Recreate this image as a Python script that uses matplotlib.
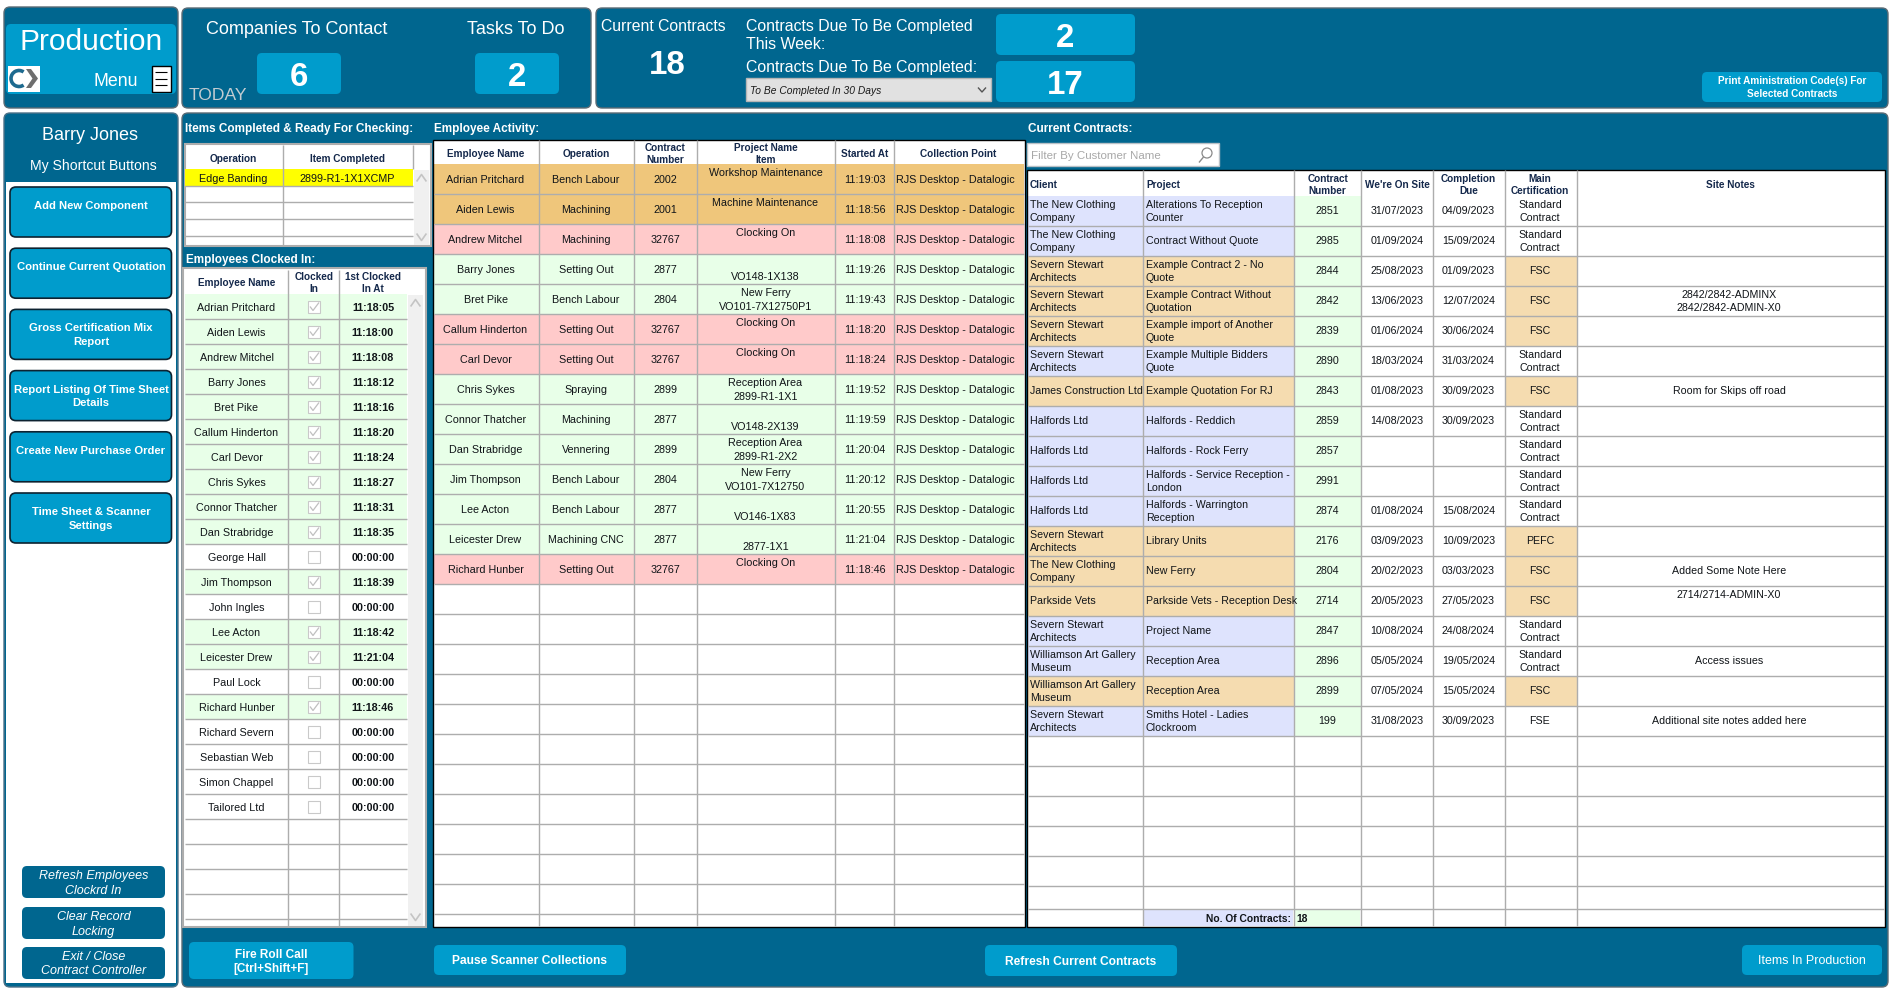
"""Production dashboard screen redrawn with matplotlib, laid out in pixel coordinates."""

import matplotlib

matplotlib.use("Agg")
import matplotlib.pyplot as plt
from matplotlib.patches import Arc, Circle, FancyBboxPatch, Polygon, Rectangle

plt.rcParams["font.family"] = ["Liberation Sans", "DejaVu Sans"]

WIDTH, HEIGHT = 1893, 992

TEAL = "#00668f"
BLUE = "#009ccc"
GRID = "#adadad"
INK = "#101418"
NAVY = "#14284b"
GREEN = "#e8ffe8"
ORANGE = "#efc67b"
PINK = "#ffcaca"
PEACH = "#f5dcb0"
LILAC = "#dee3fd"

companies_to_contact = "6"
tasks_to_do = "2"
current_contracts = "18"
due_this_week = "2"
due_selected = "17"

shortcut_buttons = [
    "Add New Component",
    "Continue Current Quotation",
    "Gross Certification Mix\nReport",
    "Report Listing Of Time Sheet\nDetails",
    "Create New Purchase Order",
    "Time Sheet & Scanner\nSettings",
]
system_buttons = [
    "Refresh Employees\nClockrd In",
    "Clear Record\nLocking",
    "Exit / Close\nContract Controller",
]

item_operations = ["Edge Banding"]
item_codes = ["2899-R1-1X1XCMP"]

clocked_names = [
    "Adrian Pritchard", "Aiden Lewis", "Andrew Mitchel", "Barry Jones", "Bret Pike",
    "Callum Hinderton", "Carl Devor", "Chris Sykes", "Connor Thatcher", "Dan Strabridge",
    "George Hall", "Jim Thompson", "John Ingles", "Lee Acton", "Leicester Drew",
    "Paul Lock", "Richard Hunber", "Richard Severn", "Sebastian Web", "Simon Chappel",
    "Tailored Ltd",
]
clocked_times = [
    "11:18:05", "11:18:00", "11:18:08", "11:18:12", "11:18:16",
    "11:18:20", "11:18:24", "11:18:27", "11:18:31", "11:18:35",
    "00:00:00", "11:18:39", "00:00:00", "11:18:42", "11:21:04",
    "00:00:00", "11:18:46", "00:00:00", "00:00:00", "00:00:00",
    "00:00:00",
]

activity_names = [
    "Adrian Pritchard", "Aiden Lewis", "Andrew Mitchel", "Barry Jones", "Bret Pike",
    "Callum Hinderton", "Carl Devor", "Chris Sykes", "Connor Thatcher", "Dan Strabridge",
    "Jim Thompson", "Lee Acton", "Leicester Drew", "Richard Hunber",
]
activity_operations = [
    "Bench Labour", "Machining", "Machining", "Setting Out", "Bench Labour",
    "Setting Out", "Setting Out", "Spraying", "Machining", "Vennering",
    "Bench Labour", "Bench Labour", "Machining CNC", "Setting Out",
]
activity_contracts = [
    "2002", "2001", "32767", "2877", "2804", "32767", "32767",
    "2899", "2877", "2899", "2804", "2877", "2877", "32767",
]
activity_projects = [
    "Workshop Maintenance", "Machine Maintenance", "Clocking On", "", "New Ferry",
    "Clocking On", "Clocking On", "Reception Area", "", "Reception Area",
    "New Ferry", "", "", "Clocking On",
]
activity_items = [
    "", "", "", "VO148-1X138", "VO101-7X12750P1",
    "", "", "2899-R1-1X1", "VO148-2X139", "2899-R1-2X2",
    "VO101-7X12750", "VO146-1X83", "2877-1X1", "",
]
activity_started = [
    "11:19:03", "11:18:56", "11:18:08", "11:19:26", "11:19:43", "11:18:20", "11:18:24",
    "11:19:52", "11:19:59", "11:20:04", "11:20:12", "11:20:55", "11:21:04", "11:18:46",
]
activity_point = "RJS Desktop - Datalogic"

contract_clients = [
    "The New Clothing\nCompany", "The New Clothing\nCompany", "Severn Stewart\nArchitects",
    "Severn Stewart\nArchitects", "Severn Stewart\nArchitects", "Severn Stewart\nArchitects",
    "James Construction Ltd", "Halfords Ltd", "Halfords Ltd", "Halfords Ltd", "Halfords Ltd",
    "Severn Stewart\nArchitects", "The New Clothing\nCompany", "Parkside Vets",
    "Severn Stewart\nArchitects", "Williamson Art Gallery\nMuseum",
    "Williamson Art Gallery\nMuseum", "Severn Stewart\nArchitects",
]
contract_projects = [
    "Alterations To Reception\nCounter", "Contract Without Quote",
    "Example Contract 2 - No\nQuote", "Example Contract Without\nQuotation",
    "Example import of Another\nQuote", "Example Multiple Bidders\nQuote",
    "Example Quotation For RJ", "Halfords - Reddich", "Halfords - Rock Ferry",
    "Halfords - Service Reception -\nLondon", "Halfords - Warrington\nReception",
    "Library Units", "New Ferry", "Parkside Vets - Reception Desk", "Project Name",
    "Reception Area", "Reception Area", "Smiths Hotel - Ladies\nClockroom",
]
contract_numbers = [
    "2851", "2985", "2844", "2842", "2839", "2890", "2843", "2859", "2857",
    "2991", "2874", "2176", "2804", "2714", "2847", "2896", "2899", "199",
]
contract_on_site = [
    "31/07/2023", "01/09/2024", "25/08/2023", "13/06/2023", "01/06/2024", "18/03/2024",
    "01/08/2023", "14/08/2023", "", "", "01/08/2024", "03/09/2023",
    "20/02/2023", "20/05/2023", "10/08/2024", "05/05/2024", "07/05/2024", "31/08/2023",
]
contract_due = [
    "04/09/2023", "15/09/2024", "01/09/2023", "12/07/2024", "30/06/2024", "31/03/2024",
    "30/09/2023", "30/09/2023", "", "", "15/08/2024", "10/09/2023",
    "03/03/2023", "27/05/2023", "24/08/2024", "19/05/2024", "15/05/2024", "30/09/2023",
]
contract_certs = [
    "Standard\nContract", "Standard\nContract", "FSC", "FSC", "FSC", "Standard\nContract",
    "FSC", "Standard\nContract", "Standard\nContract", "Standard\nContract",
    "Standard\nContract", "PEFC", "FSC", "FSC", "Standard\nContract", "Standard\nContract",
    "FSC", "FSE",
]
contract_notes = {
    3: "2842/2842-ADMINX\n2842/2842-ADMIN-X0",
    6: "Room for Skips off road",
    12: "Added Some Note Here",
    15: "Access issues",
    17: "Additional site notes added here",
}
parkside_note = "2714/2714-ADMIN-X0"

fig = plt.figure(figsize=(WIDTH / 100, HEIGHT / 100), dpi=100, facecolor="white")
ax = fig.add_axes([0, 0, 1, 1])
ax.set_xlim(0, WIDTH)
ax.set_ylim(HEIGHT, 0)
ax.axis("off")


def label(x, y, text, px=10.5, color=INK, ha="center", bold=False, italic=False):
    # px is the font height in screen pixels, the figure is 100 dpi
    # baseline placement so lines with and without descenders sit level
    ax.text(
        x, y + 0.36 * px, text, fontsize=px * 0.72, color=color, ha=ha, va="baseline",
        fontweight="bold" if bold else "normal",
        fontstyle="italic" if italic else "normal",
    )


def box(x0, y0, x1, y1, color, radius=5, edge="none", lw=0.0):
    ax.add_patch(FancyBboxPatch(
        (x0, y0), x1 - x0, y1 - y0, boxstyle=f"round,pad=0,rounding_size={radius}",
        facecolor=color, edgecolor=edge, linewidth=lw,
    ))


def cell(x0, y0, x1, y1, color, edge="none", lw=0.0):
    ax.add_patch(Rectangle((x0, y0), x1 - x0, y1 - y0, facecolor=color, edgecolor=edge, linewidth=lw))


def line(xs, ys, color=GRID, lw=1.0):
    ax.plot(xs, ys, color=color, linewidth=lw, solid_capstyle="butt")


def button(x0, y0, x1, y1, text, px=12, color=BLUE, bold=True, italic=False, gap=14):
    box(x0, y0, x1, y1, color, radius=5)
    parts = text.split("\n")
    mid = (y0 + y1) / 2
    for i, part in enumerate(parts):
        y = mid + (i - (len(parts) - 1) / 2) * gap
        label((x0 + x1) / 2, y, part, px, "white", bold=bold, italic=italic)


def chevron(x, y, up, color="#c4c4c4", size=3.5):
    tip = y - size if up else y + size
    base = y + size if up else y - size
    line([x - size * 1.4, x, x + size * 1.4], [base, tip, base], color, 1.2)


def column_lines(columns, y0, y1):
    for x in columns:
        line([x, x], [y0, y1])


def row_lines(x0, x1, ys):
    for y in ys:
        line([x0, x1], [y, y])


# white-edged teal panels
for x0, y0, x1, y1 in [(4, 7, 178, 108), (182, 8, 591, 108), (596, 8, 1888, 108), (182, 113, 1888, 987)]:
    box(x0, y0, x1, y1, TEAL, radius=6, edge="#5b6b75", lw=1.0)
box(4, 113, 178, 987, TEAL, radius=6, edge="#4d7288", lw=1.0)
cell(6, 182, 176, 983, "white")

# production tile
box(6, 24, 176, 94, BLUE, radius=5)
label(91, 39, "Production", 30, "white")
label(116, 80, "Menu", 17.7, "white")
cell(8, 66, 40, 92, "white")
ax.add_patch(Arc((19, 78.5), 16, 16, theta1=55, theta2=305, color="#1d6a8f", linewidth=2.6))
ax.add_patch(Polygon([(26, 69), (31, 69), (38, 78.5), (31, 88), (26, 88), (32.5, 78.5)], facecolor="#6e6e6e", edgecolor="none"))
cell(151.5, 66, 171, 92, "white", edge="black", lw=1.0)
for bar_y in (72, 79, 85):
    line([155, 167], [bar_y, bar_y], "black", 0.8)

# counters
label(296.5, 28, "Companies To Contact", 18, "white")
label(516, 28, "Tasks To Do", 18, "white")
label(218, 94, "TODAY", 17.5, "#c3ccd1")
box(257, 53, 341, 94, BLUE)
box(475, 53, 559, 94, BLUE)
label(299, 74, companies_to_contact, 33, "white", bold=True)
label(517, 74, tasks_to_do, 33, "white", bold=True)
label(663, 25, "Current Contracts", 15.8, "white")
label(667, 62, current_contracts, 33, "white", bold=True)
label(746, 25, "Contracts Due To Be Completed", 15.85, "white", ha="left")
label(746, 43, "This Week:", 15.85, "white", ha="left")
label(746, 66, "Contracts Due To Be Completed:", 15.85, "white", ha="left")
cell(746, 78, 990.5, 101, "#e1e1e1", edge="#b5b5b5", lw=1.0)
label(750, 90, "To Be Completed In 30 Days", 10.2, "#1a1a1a", ha="left", italic=True)
line([978, 982, 986], [87.5, 92, 87.5], "#555555", 1.0)
box(996, 14, 1135, 55, BLUE)
box(996, 61, 1135, 102, BLUE)
label(1065, 35, due_this_week, 33, "white", bold=True)
label(1065, 82, due_selected, 33, "white", bold=True)
button(1702, 72, 1882, 102, "Print Aministration Code(s) For\nSelected Contracts", 10, gap=13)

# left hand shortcuts
label(90, 134, "Barry Jones", 18, "white")
label(93, 165, "My Shortcut Buttons", 14, "white")
for i, text in enumerate(shortcut_buttons):
    top = 187 + i * 61.2
    box(10, top, 171.5, top + 50, BLUE, radius=6, edge="#0d2230", lw=1.2)
    for j, part in enumerate(text.split("\n")):
        label(91, top + 18 + j * 13.5, part, 11.2, "white", bold=True)
for (y0, y1), text in zip([(866, 898), (907, 939), (947, 979)], system_buttons):
    button(22, y0, 165, y1, text, 12.5, TEAL, bold=False, italic=True)

# section titles
label(185, 128, "Items Completed & Ready For Checking:", 11.8, "white", ha="left", bold=True)
label(434, 128, "Employee Activity:", 11.8, "white", ha="left", bold=True)
label(1028, 128, "Current Contracts:", 11.8, "white", ha="left", bold=True)
label(185.5, 259, "Employees Clocked In:", 11.8, "white", ha="left", bold=True)

# items completed table
cell(184.5, 144, 430.5, 246, "white", edge=GRID, lw=1.5)
cell(414, 170, 429, 245, "#f0f0f0")
cell(185, 169, 412.5, 186, "#ffff00")
row_lines(185, 412.5, [186, 202, 219, 236])
column_lines([282.5], 145, 245)
column_lines([412.5], 145, 169)
label(233.5, 158, "Operation", 10, NAVY, bold=True)
label(347.5, 158, "Item Completed", 10, NAVY, bold=True)
for i, (op, code) in enumerate(zip(item_operations, item_codes)):
    label(233, 178 + i * 17, op, 10.7)
    label(347, 178 + i * 17, code, 10.7)
chevron(421.5, 178, True)
chevron(421.5, 237, False)

# employees clocked in table
cell(183, 268, 425.5, 927, "white", edge=GRID, lw=1.5)
cell(408, 295, 423, 926, "#f0f0f0")
clock_rows = [294 + i * 25 for i in range(26)]
for i, (name, at) in enumerate(zip(clocked_names, clocked_times)):
    top = clock_rows[i]
    is_in = at != "00:00:00"
    if is_in:
        cell(185, top, 407, top + 25, GREEN)
    label(236.5, top + 12.7, name, 10.7)
    label(373, top + 12.7, at, 10.7, bold=True)
    cell(307.8, top + 6.5, 320.2, top + 19, "white", edge="#c9c9c9", lw=0.8)
    if is_in:
        line([310, 313, 319], [top + 12.5, top + 16.5, top + 8.5], "#c0c0c0", 0.9)
row_lines(185, 407, [y + 25 for y in clock_rows[:25]])
column_lines([288, 339], 270, 926)
label(236.5, 282.5, "Employee Name", 10, NAVY, bold=True)
label(314, 276.7, "Clocked", 10, NAVY, bold=True)
label(314, 288.3, "In", 10, NAVY, bold=True)
label(373, 276.7, "1st Clocked", 10, NAVY, bold=True)
label(373, 288.3, "In At", 10, NAVY, bold=True)
chevron(415.5, 303, True)
chevron(415.5, 917, False)

# employee activity table
cell(433, 139.5, 1025, 927, "white")
activity_rows = [163.7 + i * 30 for i in range(26)]
for i in range(len(activity_names)):
    project = activity_projects[i]
    if project in ("Workshop Maintenance", "Machine Maintenance"):
        shade = ORANGE
    elif project == "Clocking On":
        shade = PINK
    else:
        shade = GREEN
    top = activity_rows[i]
    cell(434, top, 1024, top + 30, shade)
    label(485.5, top + 15, activity_names[i], 10.7)
    label(586, top + 15, activity_operations[i], 10.7)
    label(665, top + 15, activity_contracts[i], 10.7)
    label(765.5, top + 8.7, project, 10.7)
    label(765.5, top + 22.3, activity_items[i], 10.7)
    label(864.5, top + 15, activity_started[i], 10.7)
    label(896, top + 15, activity_point, 10.7, ha="left")
row_lines(434, 1024, activity_rows[1:26])
column_lines([538.5, 633.6, 696.5, 834.5, 893.5], 140, 926)
label(486, 153.2, "Employee Name", 10, NAVY, bold=True)
label(586, 153.2, "Operation", 10, NAVY, bold=True)
label(665, 147.5, "Contract", 10, NAVY, bold=True)
label(665, 159.5, "Number", 10, NAVY, bold=True)
label(765.5, 147.5, "Project Name", 10, NAVY, bold=True)
label(765.5, 159.5, "Item", 10, NAVY, bold=True)
label(864.5, 153.2, "Started At", 10, NAVY, bold=True)
label(958.5, 153.2, "Collection Point", 10, NAVY, bold=True)
cell(433, 139.5, 1025, 927, "none", edge="black", lw=1.0)

# filter box
cell(1027, 143, 1218.5, 166, "white", edge="#b8c0c6", lw=1.0)
label(1031, 155, "Filter By Customer Name", 11.5, "#a8a8a8", ha="left")
ax.add_patch(Circle((1207, 153), 5, facecolor="none", edgecolor="#8a8a8a", linewidth=0.9))
line([1203.5, 1199], [157, 162.5], "#8a8a8a", 1.0)

# current contracts table
cell(1027, 169.5, 1884.5, 927, "white")
contract_rows = [195.7 + i * 30 for i in range(24)]
for i, top in enumerate(contract_rows[:18]):
    cert = contract_certs[i]
    shade = PEACH if cert in ("FSC", "PEFC") else LILAC
    cell(1028, top, 1293.5, top + 30, shade)
    cell(1293.5, top, 1360.5, top + 30, GREEN)
    if shade == PEACH:
        cell(1504.5, top, 1576.5, top + 30, PEACH)
    for x, ha, text in [(1030, "left", contract_clients[i]), (1146, "left", contract_projects[i]), (1540, "center", cert)]:
        parts = text.split("\n")
        if len(parts) == 2:
            label(x, top + 8.7, parts[0], 10.6, ha=ha)
            label(x, top + 21.7, parts[1], 10.6, ha=ha)
        else:
            label(x, top + 14.7, text, 10.6, ha=ha)
    label(1327, top + 14.7, contract_numbers[i], 10.6)
    label(1397, top + 14.7, contract_on_site[i], 10.6)
    label(1468.5, top + 14.7, contract_due[i], 10.6)
    note = contract_notes.get(i, "")
    parts = note.split("\n")
    if len(parts) == 2:
        label(1729, top + 8.7, parts[0], 10.6)
        label(1729, top + 21.7, parts[1], 10.6)
    elif note:
        label(1729, top + 14.7, note, 10.6)
label(1729, contract_rows[13] + 8.7, parkside_note, 10.6)
row_lines(1028, 1884, contract_rows[1:] + [909.3])
column_lines([1143, 1293.5, 1360.5, 1432.5, 1504.5, 1576.5], 170, 926)
cell(1143.5, 910, 1293, 926, LILAC)
cell(1294, 910, 1360, 926, GREEN)
label(1291, 918, "No. Of Contracts:", 10.3, ha="right", bold=True)
label(1296, 918, current_contracts, 10.3, ha="left", bold=True)
label(1030, 184, "Client", 10, NAVY, ha="left", bold=True)
label(1146, 184, "Project", 10, NAVY, ha="left", bold=True)
label(1327.5, 178.5, "Contract", 10, NAVY, bold=True)
label(1327.5, 190.5, "Number", 10, NAVY, bold=True)
label(1397, 184, "We're On Site", 10, NAVY, bold=True)
label(1468.5, 178.5, "Completion", 10, NAVY, bold=True)
label(1468.5, 190.5, "Due", 10, NAVY, bold=True)
label(1540, 178.5, "Main", 10, NAVY, bold=True)
label(1540, 190.5, "Certification", 10, NAVY, bold=True)
label(1730, 184, "Site Notes", 10, NAVY, bold=True)
cell(1027, 169.5, 1884.5, 927, "none", edge="black", lw=1.0)

# bottom buttons
button(189, 942, 353.5, 979, "Fire Roll Call\n[Ctrl+Shift+F]", 11.8)
button(434, 945, 626, 975, "Pause Scanner Collections", 12)
button(985, 945, 1177, 976, "Refresh Current Contracts", 12)
button(1742, 945, 1882, 975, "Items In Production", 12.5, bold=False)

fig.savefig("out.png", dpi=100, facecolor="white")
plt.close(fig)
